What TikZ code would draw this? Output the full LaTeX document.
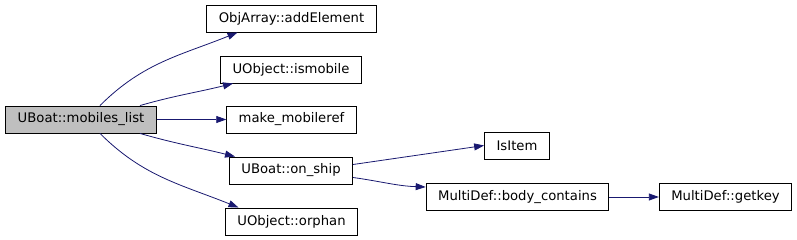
\documentclass[tikz,border=0pt]{standalone}
\usepackage{fontspec}
\setmainfont{DejaVu Sans}
\usepackage{tikz}
\usetikzlibrary{arrows.meta,positioning,calc}
\definecolor{edgeblue}{RGB}{25,25,112}
\definecolor{rootgray}{RGB}{191,191,191}

\begin{document}
\begin{tikzpicture}[
    x=1pt, y=1pt,
    font=\fontsize{13.2}{15}\selectfont,
    func/.style={rectangle, draw=black, line width=0.9pt, fill=white, minimum height=27pt, inner xsep=12pt, inner ysep=0pt},
    root/.style={func, fill=rootgray},
    arrow/.style={-{Triangle[length=10pt, width=7pt]}, draw=edgeblue, line width=0.8pt}
]
\useasboundingbox (0,0) rectangle (797,240);
\node[root] (mobiles) at (81,120.5) {UBoat::mobiles\_list};
\node[func] (addelem) at (291.5,221.5) {ObjArray::addElement};
\node[func] (ismobile) at (291,170.5) {UObject::ismobile};
\node[func] (mkref) at (291.5,120.5) {make\_mobileref};
\node[func] (onship) at (291,69.5) {UBoat::on\_ship};
\node[func] (orphan) at (291.5,18.5) {UObject::orphan};
\node[func] (isitem) at (517,94.5) {IsItem};
\node[func] (bodycont) at (517.5,43) {MultiDef::body\_contains};
\node[func] (getkey) at (725.5,43) {MultiDef::getkey};

\draw[arrow] ([xshift=19pt]mobiles.north) to[out=45, in=202] ([xshift=-54pt]addelem.south);
\draw[arrow] ([xshift=59pt]mobiles.north) to[out=16, in=194] ([xshift=-58pt]ismobile.south);
\draw[arrow] (mobiles.east) -- (mkref.west);
\draw[arrow] ([xshift=59pt]mobiles.south) to[out=-16, in=166] ([xshift=-56pt]onship.north);
\draw[arrow] ([xshift=19pt]mobiles.south) to[out=-45, in=158] ([xshift=-53pt]orphan.north);
\draw[arrow] ([yshift=6pt]onship.east) -- (isitem.west);
\draw[arrow] ([yshift=-7pt]onship.east) to[out=-8, in=178] ([yshift=10pt]bodycont.west);
\draw[arrow] (bodycont.east) -- (getkey.west);
\end{tikzpicture}
\end{document}
